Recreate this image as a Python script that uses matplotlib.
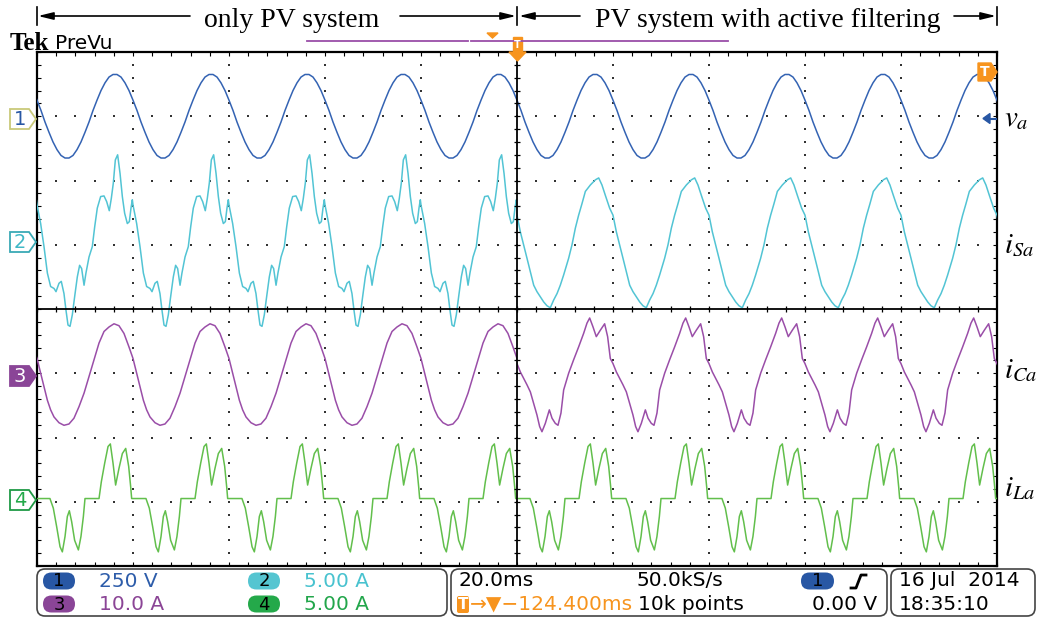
import numpy as np
import matplotlib.pyplot as plt
from matplotlib.patches import Polygon, FancyBboxPatch, Rectangle

plt.rcParams['mathtext.fontset'] = 'stix'

# one period (20 ms = 1 division) of every trace, phase 0 on a grid line,
# values in screen divisions relative to the channel ground marker
va_phase = np.arange(24) / 24
va_vals = [0.25, 0.09, -0.09, -0.25, -0.40, -0.52, -0.61, -0.65, -0.65, -0.61, -0.52, -0.40,
           -0.25, -0.09, 0.09, 0.25, 0.40, 0.52, 0.61, 0.65, 0.65, 0.61, 0.52, 0.40]

# source current, only PV system
isa_pv_phase = [0, 0.038, 0.073, 0.108, 0.142, 0.177, 0.198, 0.229, 0.253, 0.281, 0.302, 0.323,
                0.344, 0.368, 0.392, 0.420, 0.444, 0.465, 0.490, 0.510, 0.542, 0.576, 0.601,
                0.628, 0.663, 0.698, 0.726, 0.753, 0.774, 0.795, 0.816, 0.840, 0.865, 0.889,
                0.913, 0.941, 0.962, 0.979, 0.993]
isa_pv_vals = [0.62, 0.33, -0.03, -0.44, -0.65, -0.68, -0.73, -0.60, -0.57, -0.76, -1.02, -1.25,
               -1.27, -1.09, -0.81, -0.50, -0.32, -0.37, -0.63, -0.44, -0.19, -0.03, 0.28,
               0.57, 0.75, 0.76, 0.67, 0.53, 0.72, 0.96, 1.32, 1.40, 1.11, 0.75,
               0.49, 0.33, 0.36, 0.57, 0.70]

# source current, PV system with active filtering
isa_af_phase = [0, 0.035, 0.069, 0.104, 0.139, 0.174, 0.208, 0.243, 0.278, 0.3125, 0.347, 0.382,
                0.417, 0.451, 0.486, 0.538, 0.573, 0.608, 0.642, 0.677, 0.712, 0.764, 0.816,
                0.851, 0.885, 0.920, 0.965]
isa_af_vals = [0.46, 0.20, 0.00, -0.21, -0.42, -0.63, -0.73, -0.81, -0.89, -0.95, -0.98, -0.86,
               -0.76, -0.63, -0.47, -0.21, 0.00, 0.26, 0.46, 0.64, 0.83, 0.93, 1.01,
               1.04, 0.93, 0.77, 0.57]

# converter current
ica_pv_phase = [0, 0.038, 0.073, 0.108, 0.142, 0.177, 0.229, 0.281, 0.333, 0.385, 0.4375, 0.490,
                0.542, 0.594, 0.646, 0.698, 0.75, 0.802, 0.854, 0.906, 0.958]
ica_pv_vals = [0.23, 0.00, -0.21, -0.42, -0.57, -0.68, -0.77, -0.81, -0.79, -0.70, -0.52, -0.31,
               -0.05, 0.21, 0.47, 0.65, 0.72, 0.77, 0.74, 0.62, 0.41]
ica_af_phase = [0, 0.035, 0.069, 0.104, 0.139, 0.174, 0.208, 0.236, 0.260, 0.295, 0.337, 0.365,
                0.399, 0.427, 0.458, 0.486, 0.538, 0.590, 0.642, 0.694, 0.729, 0.757, 0.792,
                0.826, 0.868, 0.913, 0.944, 0.972]
ica_af_vals = [0.15, 0.02, -0.08, -0.18, -0.29, -0.47, -0.65, -0.83, -0.91, -0.78, -0.57, -0.70,
               -0.78, -0.81, -0.62, -0.26, 0.00, 0.21, 0.41, 0.62, 0.78, 0.86, 0.72,
               0.57, 0.67, 0.77, 0.57, 0.23]

# load current (same in both captures)
ila_phase = [0, 0.135, 0.170, 0.205, 0.240, 0.264, 0.292, 0.316, 0.337, 0.361, 0.392, 0.431,
             0.458, 0.483, 0.5, 0.646, 0.670, 0.705, 0.740, 0.764, 0.792, 0.819, 0.854,
             0.889, 0.924, 0.955, 0.976, 0.986]
ila_vals = [0.05, 0.05, -0.10, -0.39, -0.70, -0.78, -0.54, -0.23, -0.14, -0.31, -0.60, -0.75,
            -0.54, -0.23, 0.05, 0.05, 0.31, 0.60, 0.86, 0.90, 0.60, 0.26, 0.52,
            0.75, 0.83, 0.55, 0.23, 0.05]

ch_level = [7, 5, 3, 1]
ch_color = ['#3463b3', '#52c4d4', '#9a4ea8', '#62bf4c']
right_labels = ['$v_a$', '$i_{Sa}$', '$i_{Ca}$', '$i_{La}$']

scale_text = ['250 V', '5.00 A', '10.0 A', '5.00 A']
badge_color = ['#2857a4', '#55c5d1', '#8a4597', '#24a94a']
scale_color = ['#2e5daa', '#48c2cf', '#8b4596', '#22a64b']


def tile(phase, vals):
    ph = np.asarray(phase)
    xs = np.concatenate([n + ph for n in range(-1, 12)])
    ys = np.tile(np.asarray(vals), 13)
    return xs, ys


fig = plt.figure(figsize=(10.38, 6.19), dpi=100)
ax = fig.add_axes([37 / 1038, 53 / 619, 960 / 1038, 514 / 619])
ax.set_xlim(0, 10)
ax.set_ylim(0, 8)

# graticule
gx, gy = [], []
for xd in range(1, 10):
    if xd == 5:
        continue
    for yd in np.arange(0, 8.01, 0.2):
        gx.append(xd)
        gy.append(yd)
for yd in range(1, 8):
    if yd == 4:
        continue
    for xd in np.arange(0, 10.01, 0.2):
        gx.append(xd)
        gy.append(yd)
ax.scatter(gx, gy, s=2.2, marker='s', color='#333333', linewidths=0, zorder=1)
ax.axvline(5, color='black', lw=1.3, zorder=4)
ax.axhline(4, color='black', lw=1.3, zorder=4)
ax.plot(np.full(41, 5.0), np.arange(0, 8.01, 0.2), ls='none', marker='_', ms=5,
        mew=0.9, color='black', zorder=4)
ax.plot(np.arange(0, 10.01, 0.2), np.full(51, 4.0), ls='none', marker='|', ms=5,
        mew=0.9, color='black', zorder=4)
ax.set_xticks(np.arange(0, 10.01, 0.2))
ax.set_yticks(np.arange(0, 8.01, 0.2))
ax.tick_params(direction='in', length=3, width=0.8, top=True, right=True,
               labelbottom=False, labelleft=False)
for s in ax.spines.values():
    s.set_linewidth(1.6)

left_clip = Rectangle((0, 0), 5, 8, transform=ax.transData)
right_clip = Rectangle((5, 0), 5, 8, transform=ax.transData)

traces = [
    (va_phase, va_vals, va_phase, va_vals),
    (isa_pv_phase, isa_pv_vals, isa_af_phase, isa_af_vals),
    (ica_pv_phase, ica_pv_vals, ica_af_phase, ica_af_vals),
    (ila_phase, ila_vals, ila_phase, ila_vals),
]
for i, (p1, v1, p2, v2) in enumerate(traces):
    x, y = tile(p1, v1)
    ln, = ax.plot(x, ch_level[i] + y, color=ch_color[i], lw=1.1, zorder=3)
    ln.set_clip_path(left_clip)
    x, y = tile(p2, v2)
    ln, = ax.plot(x, ch_level[i] + y, color=ch_color[i], lw=1.1, zorder=3)
    ln.set_clip_path(right_clip)

# overlay in pixel coordinates for the scope decorations
ov = fig.add_axes([0, 0, 1, 1], zorder=5)
ov.set_xlim(0, 1038)
ov.set_ylim(619, 0)
ov.axis('off')

serif = ['Liberation Serif', 'DejaVu Serif']
sans = ['DejaVu Sans']

arrow = dict(arrowstyle='-|>,head_length=0.9,head_width=0.22', color='black', lw=1.2,
             shrinkA=0, shrinkB=0)
for tip, tail in [(38, 190), (516, 400), (519, 580), (996, 954)]:
    ov.annotate('', xy=(tip, 16), xytext=(tail, 16), arrowprops=arrow)
for bx in [37, 517, 997]:
    ov.plot([bx, bx], [7, 25], color='black', lw=1.2)
ov.text(292, 27, 'only PV system', ha='center', va='baseline', fontsize=20, family=serif)
ov.text(768, 27, 'PV system with active filtering', ha='center', va='baseline',
        fontsize=20, family=serif)

ov.text(10, 50, 'Tek', ha='left', va='baseline', fontsize=18, fontweight='bold', family=serif)
ov.text(55, 49, 'PreVu', ha='left', va='baseline', fontsize=14.5, family=sans)

# record / trigger position bar
ov.plot([307, 468], [41, 41], color='#9a4ea8', lw=1.3)
ov.plot([471, 728], [41, 41], color='#9a4ea8', lw=1.3)
ov.add_patch(Polygon([(487, 33), (498, 33), (492.5, 38)], closed=True, color='#f7941e'))
ov.add_patch(Rectangle((513, 37), 9, 15, color='#f7941e'))
ov.add_patch(Polygon([(509, 52), (526, 52), (517.5, 61)], closed=True, color='#f7941e'))
ov.text(517.5, 44.5, 'T', ha='center', va='center', fontsize=7, color='white',
        fontweight='bold', family=sans)

# trigger level markers
ov.add_patch(Polygon([(978, 63), (991, 63), (997, 72), (991, 81), (978, 81)], closed=True,
                     color='#f7941e'))
ov.text(985, 72, 'T', ha='center', va='center', fontsize=10, color='white',
        fontweight='bold', family=sans)
ov.add_patch(Polygon([(983, 118.5), (990, 113.5), (990, 123.5)], closed=True, color='#2857a4'))
ov.plot([990, 996], [118.5, 118.5], color='#2857a4', lw=1.5)

# channel ground markers
marker_y = [119, 242, 376, 500]
marker_edge = ['#c9c97a', '#3aa9b5', '#8a4597', '#1f9a45']
marker_face = ['white', 'white', '#8a4597', 'white']
marker_text = ['#2857a4', '#3fb8c6', 'white', '#24a94a']
for i, c in enumerate(marker_y):
    ov.add_patch(Polygon([(10, c - 10), (29, c - 10), (36, c), (29, c + 10), (10, c + 10)],
                         closed=True, facecolor=marker_face[i], edgecolor=marker_edge[i], lw=1.3))
    ov.text(20, c + 0.5, str(i + 1), ha='center', va='center', fontsize=14,
            color=marker_text[i], family=sans)

# trace names on the right
label_base = [126, 253, 378, 496]
for i, lab in enumerate(right_labels):
    ov.text(1004, label_base[i], lab, ha='left', va='baseline', fontsize=21, color='black')

# status bar
for x0, x1 in [(37, 447), (451, 887), (891, 1035)]:
    ov.add_patch(FancyBboxPatch((x0, 569), x1 - x0, 47,
                                boxstyle='round,pad=0,rounding_size=8',
                                facecolor='white', edgecolor='#444444', lw=1.2))

badge_pos = [(59, 581), (264, 581), (59, 604), (264, 604)]
for i, (bx, by) in enumerate(badge_pos):
    ov.add_patch(FancyBboxPatch((bx - 16, by - 8.5), 32, 17,
                                boxstyle='round,pad=0,rounding_size=8.5',
                                facecolor=badge_color[i], edgecolor='none'))
    ov.text(bx, by + 0.5, str(i + 1), ha='center', va='center', fontsize=13,
            color='black', family=sans)
    ov.text(bx + 40, by + 0.5, scale_text[i], ha='left', va='center', fontsize=14.5,
            color=scale_color[i], family=sans)

ov.text(458, 581, '20.0ms', ha='left', va='center', fontsize=14.5, family=sans)
ov.text(636, 581, '50.0kS/s', ha='left', va='center', fontsize=14.5, family=sans)
ov.add_patch(FancyBboxPatch((801, 572.5), 33, 17, boxstyle='round,pad=0,rounding_size=8.5',
                            facecolor='#2857a4', edgecolor='none'))
ov.text(817.5, 581.5, '1', ha='center', va='center', fontsize=13, color='black', family=sans)
ov.plot([851, 856, 861, 866], [588, 588, 575, 575], color='black', lw=2)

ov.add_patch(FancyBboxPatch((457, 596), 12, 17, boxstyle='round,pad=0,rounding_size=2',
                            facecolor='#f7941e', edgecolor='none'))
ov.text(463, 604.5, 'T', ha='center', va='center', fontsize=11, color='white',
        fontweight='bold', family=sans)
ov.text(470, 604.5, '→▼−124.400ms', ha='left', va='center', fontsize=14.5,
        color='#f7941e', family=sans)
ov.text(638, 604.5, '10k points', ha='left', va='center', fontsize=14.5, family=sans)
ov.text(877, 604.5, '0.00 V', ha='right', va='center', fontsize=14.5, family=sans)

ov.text(899, 581, '16 Jul  2014', ha='left', va='center', fontsize=14.5, family=sans)
ov.text(899, 604.5, '18:35:10', ha='left', va='center', fontsize=14.5, family=sans)

fig.savefig('out.png', dpi=100)
